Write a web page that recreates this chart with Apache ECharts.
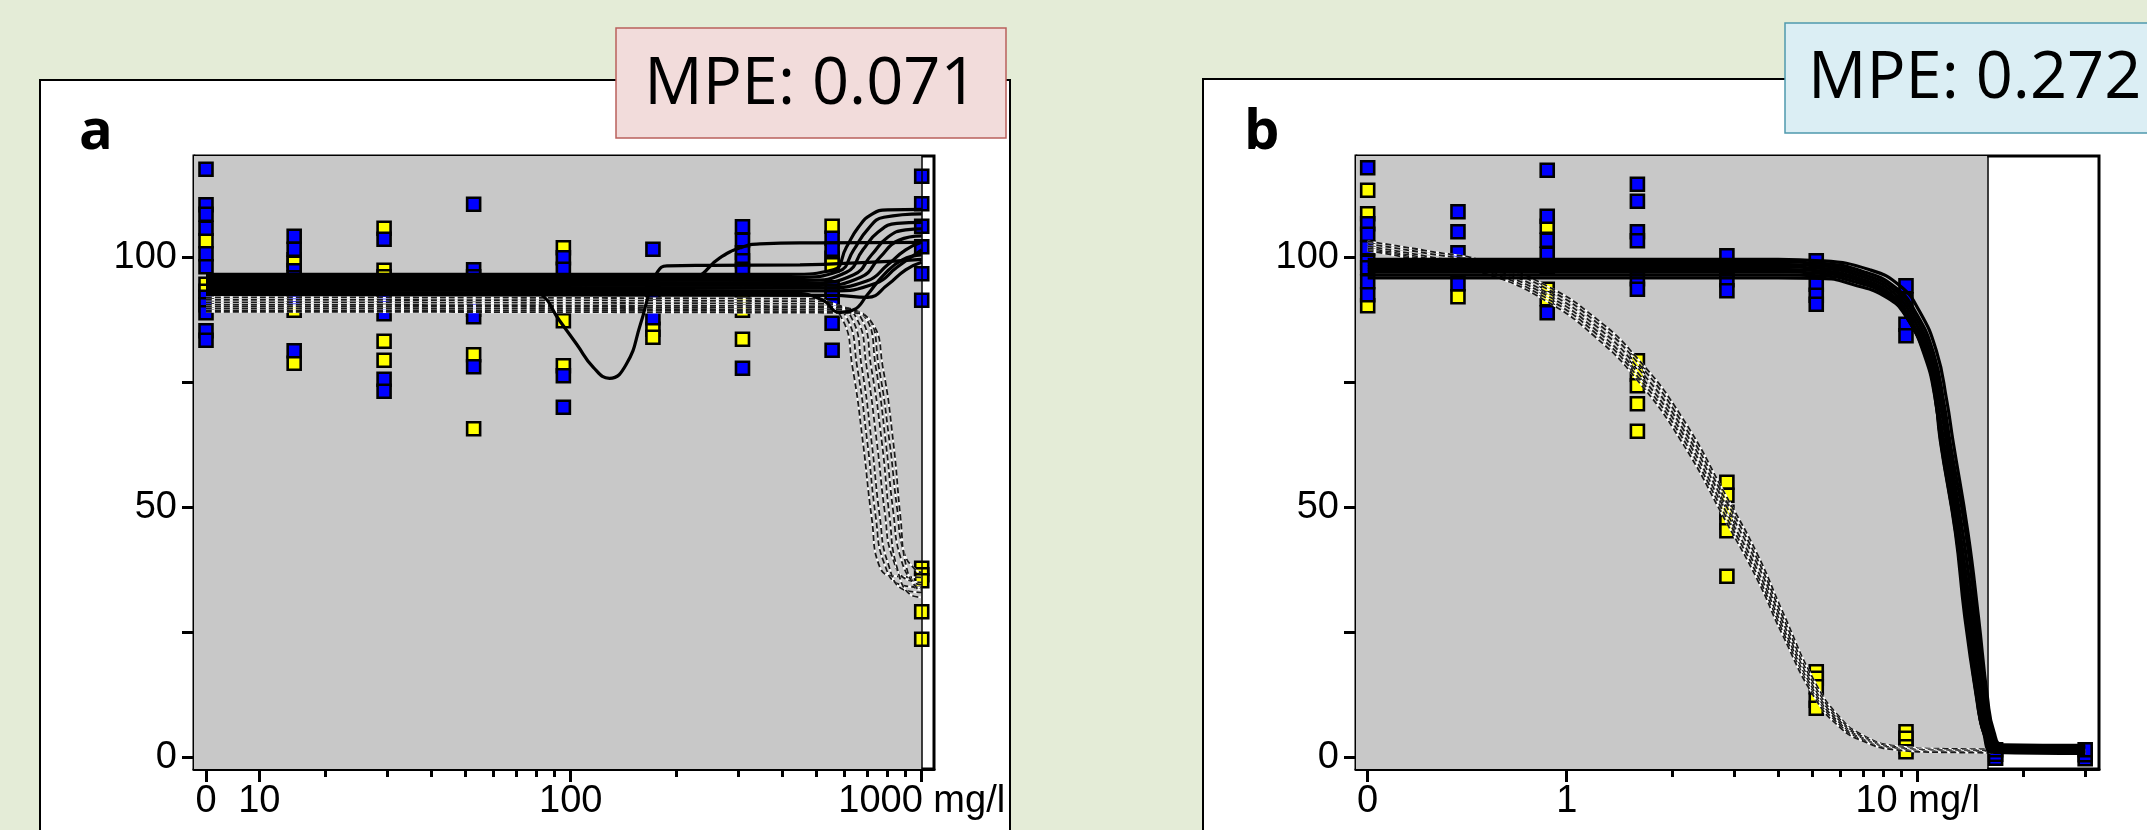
<!DOCTYPE html>
<html>
<head>
<meta charset="utf-8">
<script src="https://cdn.jsdelivr.net/npm/echarts@6/dist/echarts.min.js"></script>
<style>
  html, body { margin: 0; padding: 0; background: #e4ecd7; }
  #chart { width: 2147px; height: 830px; }
</style>
</head>
<body>
<div id="chart"></div>
<script>
// ---------- panel a : doses (mg/l) and responses ----------
var dosesA = [0, 16.3, 29.4, 52.9, 95.3, 171.5, 308.6, 555.6, 1000];
var blueA = [
  [117.6, 110.5, 108.6, 105.8, 100.7, 98.1, 92.0, 90.5, 88.9, 85.3, 83.4],
  [104.2, 101.6, 97.3, 95.9, 91.6, 81.3],
  [103.6, 92.0, 88.7, 75.6, 73.2],
  [110.6, 97.5, 96.1, 89.6, 88.1, 78.1],
  [99.9, 97.6, 94.5, 76.3, 70.0],
  [101.6, 93.0, 87.9],
  [106.1, 103.4, 100.9, 99.3, 97.6, 77.8],
  [103.8, 101.6, 93.9, 92.0, 90.3, 86.8, 81.4],
  [116.2, 110.7, 106.2, 102.1, 96.7, 91.4]
];
var yellowA = [
  [103.3, 94.6, 93.2],
  [99.5, 98.8, 89.4, 78.8],
  [105.8, 97.4, 96.1, 83.2, 79.4],
  [80.5, 65.7],
  [101.9, 87.3, 78.3],
  [85.6, 84.0],
  [91.9, 90.6, 89.4, 83.6],
  [106.2, 99.8, 98.5],
  [37.8, 36.5, 35.3, 29.1, 23.6]
];
// fitted curves, [dose, response]
var solidA = [
  [[0,96.6],[420,96.6],[560,97.5],[610,102],[660,106],[720,108.6],[800,109.5],[1000,109.6]],
  [[0,96.0],[440,96.0],[580,97.2],[640,101.5],[700,105.5],[780,108],[1000,108.7]],
  [[0,95.5],[470,95.4],[610,97],[680,101.5],[750,105],[850,106.8],[1000,107]],
  [[0,95.0],[490,94.9],[640,96.5],[720,100.5],[800,104],[900,105.5],[1000,105.7]],
  [[0,94.5],[510,94.4],[670,96],[760,100],[860,103.4],[1000,104.3]],
  [[0,94.0],[530,93.9],[700,95.3],[800,98.5],[900,101.5],[1000,103]],
  [[0,93.5],[550,93.3],[740,94.8],[850,98],[1000,101.5]],
  [[0,93.0],[430,92.8],[520,91.5],[584,89],[640,89.5],[700,92.5],[780,96.5],[880,99.5],[1000,100.5]],
  [[0,92.6],[560,92.4],[700,92],[800,94.5],[900,97.5],[1000,99]],
  [[0,95.3],[180,95.5],[223,96],[266,99.9],[304,101.9],[346,102.7],[500,102.9],[1000,103]],
  [[0,95.3],[65,95.2],[81,93],[93,87.3],[104,82.6],[116,78],[129,75.8],[144,78.6],[158,86.6],[168,93.3],[176,96.9],[188,98.3],[250,98.4],[450,98.5],[700,99],[1000,99.6]]
];
var dashedA = [
  [[0,92.0],[490,91.7],[590,88],[635,78],[680,63],[720,48],[760,38],[850,36.2],[1000,36]],
  [[0,91.5],[510,91.2],[610,88],[655,78],[700,63],[740,48],[780,39],[870,34.5],[1000,34]],
  [[0,91.0],[530,90.7],[630,88],[675,78],[720,63],[760,48],[800,39],[890,33.5],[1000,33]],
  [[0,90.5],[550,90.2],[650,88],[697,78],[745,63],[785,49],[825,40],[910,35.5],[1000,35]],
  [[0,90.2],[570,89.9],[670,88],[718,78],[770,63],[810,48],[850,38],[930,32.5],[1000,32]],
  [[0,89.8],[590,89.5],[690,88],[740,78],[790,63],[830,49],[870,40],[950,35],[1000,34.5]],
  [[0,89.4],[600,89.2],[700,88],[755,78],[810,63],[850,50],[890,41],[960,37.5],[1000,37]],
  [[0,89.1],[610,88.9],[720,87],[775,78],[830,63],[870,48],[905,38],[970,33.8],[1000,33.5]]
];

// ---------- panel b ----------
var dosesB = [0, 0.49, 0.88, 1.59, 2.86, 5.14, 9.26, 16.67, 30];
var blueB = [
  [117.9, 106.7, 104.6, 101.9, 99.0, 97.9, 95.1, 92.5],
  [109.1, 105.1, 100.9, 98.5, 94.7],
  [117.4, 108.2, 103.4, 100.6, 98.0, 88.9],
  [114.6, 111.2, 105.1, 103.3, 95.7, 93.6],
  [100.3, 97.5, 95.5, 93.3],
  [99.3, 94.6, 92.4, 90.6],
  [94.3, 91.5, 86.6, 84.3],
  [-0.2, 0.6, 1.5],
  [-0.3, 0.5, 1.5]
];
var yellowB = [
  [113.4, 108.7, 90.3],
  [92.1],
  [106.2, 93.6, 91.7],
  [79.3, 76.6, 74.3, 70.7, 65.2],
  [55.0, 52.4, 49.0, 47.0, 45.3, 36.2],
  [17.1, 15.8, 14.1, 11.4, 9.8],
  [5.1, 3.8, 2.1, 1.1],
  [],
  []
];
var solidB = [
  [[0,99.6],[4,99.6],[5.3,99.3],[7.3,97.5],[8.9,94.3],[10.1,89.3],[11.3,81.3],[12.1,71.3],[12.6,63.3],[13.9,45],[14.9,28],[15.8,12],[16.5,5],[17.5,2.5],[30,2.4]],
  [[0,99.1],[4,99.1],[5.3,98.8],[7.1,97],[8.7,93.8],[9.9,88.8],[11.1,80.8],[11.9,70.5],[12.4,62.5],[13.7,45],[14.7,27.5],[15.6,11.5],[16.3,4.8],[17.4,2.3],[30,2.2]],
  [[0,98.6],[4,98.6],[5.3,98.3],[7,96.6],[8.6,93.4],[9.8,88.3],[11,80],[11.8,69.5],[12.3,61.5],[13.5,44],[14.5,27],[15.4,11],[16.1,4.6],[17.3,2.1],[30,2.0]],
  [[0,98.1],[4,98.1],[5.3,97.8],[6.9,96.2],[8.5,93],[9.7,87.8],[10.9,79.5],[11.7,69],[12.2,61],[13.3,43.5],[14.3,26.5],[15.2,10.5],[16,4.4],[17.2,1.8],[30,1.7]],
  [[0,97.6],[4,97.6],[5.3,97.3],[6.8,95.8],[8.4,92.6],[9.6,87.3],[10.8,79],[11.5,69],[12,61],[13.1,43.5],[14.1,26.5],[15,10.5],[15.8,4.2],[17,1.5],[30,1.4]],
  [[0,97.1],[4,97.1],[5.3,96.8],[6.7,95.5],[8.3,92.3],[9.5,87],[10.7,79],[11.4,68.5],[11.9,60.5],[13,43],[13.9,26],[14.9,10],[15.6,4],[16.9,1.3],[30,1.2]],
  [[0,96.5],[4,96.5],[5.3,96.3],[6.6,95.1],[8.3,92.1],[9.4,87.5],[10.5,80],[11.2,72],[11.7,62],[12.9,44],[13.8,27],[14.8,11],[15.5,4.5],[16.7,1.1],[30,1.0]],
  [[0,95.9],[4,95.9],[5.3,95.8],[6.5,94.6],[8.2,91.9],[9.3,88],[10.4,81.3],[11.1,74.6],[11.6,63.3],[12.8,45],[13.6,28.4],[14.7,12],[15.4,5],[16.5,1],[30,0.8]]
];
var dashedB = [
  [[0,103.2],[0.4,101.3],[0.6,99],[0.877,94.3],[1.2,88],[1.59,79.8],[2.13,68],[2.86,52],[3.5,40.5],[4.1,29.5],[5.1,15],[6.0,8],[6.9,4.6],[8.6,2.3],[12,1.7],[30,1.5]],
  [[0,102.7],[0.4,100.8],[0.6,98.5],[0.877,93.7],[1.2,87.3],[1.59,79],[2.13,67],[2.86,51],[3.5,39.5],[4.1,28.5],[5.1,14.2],[6.0,7.6],[6.9,4.3],[8.6,2.1],[12,1.5],[30,1.3]],
  [[0,102.2],[0.4,100.2],[0.6,97.8],[0.877,93],[1.2,86.5],[1.59,78],[2.13,66],[2.86,50],[3.5,38.5],[4.1,27.5],[5.1,13.5],[6.0,7.2],[6.9,4],[8.6,1.9],[12,1.4],[30,1.2]],
  [[0,101.8],[0.4,99.8],[0.6,97.3],[0.877,92.4],[1.2,85.7],[1.59,77],[2.13,65],[2.86,48.8],[3.5,37.3],[4.1,26.5],[5.1,12.9],[6.0,6.8],[6.9,3.8],[8.6,1.7],[12,1.2],[30,1.0]],
  [[0,101.5],[0.4,99.5],[0.6,96.9],[0.877,91.8],[1.2,85],[1.59,76.2],[2.13,64],[2.86,47.8],[3.5,36.3],[4.1,25.6],[5.1,12.3],[6.0,6.4],[6.9,3.6],[8.6,1.6],[12,1.1],[30,0.9]],
  [[0,101.3],[0.4,99.2],[0.6,96.5],[0.877,91.2],[1.2,84.2],[1.59,75.4],[2.13,63],[2.86,46.8],[3.5,35.4],[4.1,24.8],[5.1,11.8],[6.0,6],[6.9,3.4],[8.6,1.5],[12,1],[30,0.8]]
];

// axis ticks
var majorA = [0, 10, 100, 1000];
var majorLabelsA = ['0', '10', '100', '1000 mg/l'];
var minorA = [20, 30, 40, 50, 60, 70, 80, 90, 200, 300, 400, 500, 600, 700, 800, 900];
var majorB = [0, 1, 10];
var majorLabelsB = ['0', '1', '10 mg/l'];
var minorB = [2, 3, 4, 5, 6, 7, 8, 9, 20, 30];
var yTicks = [0, 25, 50, 75, 100];
var yLabels = [0, 50, 100];

// broken log axis: linear from 0 up to bp, log10 above
function brokenLog(d, zeroPos, bp) {
  var lbp = Math.log10(bp);
  return d < bp ? zeroPos + (lbp - zeroPos) * d / bp : Math.log10(d);
}

var panels = [
  { left: 194, width: 740, xMin: 0.9268, xMax: 3.035, zero: 0.961, bp: 16, grayEnd: 1000,
    doses: dosesA, blue: blueA, yellow: yellowA, solid: solidA, dashed: dashedA,
    major: majorA, majorLabels: majorLabelsA, minor: minorA },
  { left: 1356, width: 743, xMin: -0.6003, xMax: 1.5165, zero: -0.567, bp: 0.4, grayEnd: 15.8,
    doses: dosesB, blue: blueB, yellow: yellowB, solid: solidB, dashed: dashedB,
    major: majorB, majorLabels: majorLabelsB, minor: minorB }
];

var grids = [], xAxes = [], yAxes = [], series = [];
var tickStyle = { color: '#000', width: 3 };
var labelFont = { color: '#000', fontSize: 38, fontFamily: 'Liberation Sans' };

panels.forEach(function (p, i) {
  var tx = function (d) { return brokenLog(d, p.zero, p.bp); };
  var majorPos = p.major.map(tx);

  grids.push({ left: p.left, top: 156, width: p.width, height: 613, show: true,
    backgroundColor: '#fff', borderColor: '#000', borderWidth: 3 });

  xAxes.push({
    gridIndex: i, type: 'value', min: p.xMin, max: p.xMax, position: 'bottom',
    axisLine: { onZero: false, lineStyle: tickStyle },
    axisTick: { customValues: majorPos, length: 13, lineStyle: tickStyle },
    axisLabel: Object.assign({ customValues: majorPos, margin: 14,
      formatter: function (v) {
        for (var k = 0; k < majorPos.length; k++) {
          if (Math.abs(majorPos[k] - v) < 1e-6) return p.majorLabels[k];
        }
        return '';
      } }, labelFont),
    splitLine: { show: false }
  });
  xAxes.push({
    gridIndex: i, type: 'value', min: p.xMin, max: p.xMax, position: 'bottom',
    axisLine: { show: false, onZero: false },
    axisTick: { customValues: p.minor.map(tx), length: 8, lineStyle: tickStyle },
    axisLabel: { show: false },
    splitLine: { show: false }
  });
  yAxes.push({
    gridIndex: i, type: 'value', min: -2.34, max: 120.26,
    axisLine: { onZero: false, lineStyle: tickStyle },
    axisTick: { customValues: yTicks, length: 12, lineStyle: tickStyle },
    axisLabel: Object.assign({ customValues: yLabels, margin: 17 }, labelFont),
    splitLine: { show: false }
  });

  var xi = 2 * i;
  // grey shaded range and its edge
  series.push({
    type: 'line', xAxisIndex: xi, yAxisIndex: i, data: [], z: 1, silent: true,
    markArea: { silent: true, itemStyle: { color: '#c8c8c8' },
      data: [[{ xAxis: p.xMin }, { xAxis: tx(p.grayEnd) }]] },
    markLine: { silent: true, symbol: ['none', 'none'], label: { show: false },
      lineStyle: { color: '#000', width: 1.5, type: 'solid' },
      data: [{ xAxis: tx(p.grayEnd) }] }
  });

  function pts(groups) {
    var out = [];
    groups.forEach(function (vals, k) {
      vals.forEach(function (v) { out.push([tx(p.doses[k]), v]); });
    });
    return out;
  }
  series.push({ type: 'scatter', xAxisIndex: xi, yAxisIndex: i, z: 3, symbol: 'rect', symbolSize: 13,
    itemStyle: { color: '#ffff00', borderColor: '#000', borderWidth: 2.6, opacity: 1 }, data: pts(p.yellow) });
  series.push({ type: 'scatter', xAxisIndex: xi, yAxisIndex: i, z: 3, symbol: 'rect', symbolSize: 13,
    itemStyle: { color: '#0000ff', borderColor: '#000', borderWidth: 2.6, opacity: 1 }, data: pts(p.blue) });

  function curve(c) { return c.map(function (pt) { return [tx(pt[0]), pt[1]]; }); }
  p.dashed.forEach(function (c) {
    series.push({ type: 'line', xAxisIndex: xi, yAxisIndex: i, z: 4, data: curve(c), smooth: 0.5,
      showSymbol: false, symbol: 'none', silent: true,
      lineStyle: { color: '#ffffff', width: 1.8 } });
    series.push({ type: 'line', xAxisIndex: xi, yAxisIndex: i, z: 4, data: curve(c), smooth: 0.5,
      showSymbol: false, symbol: 'none', silent: true,
      lineStyle: { color: '#1a1a1a', width: 1.8, type: [6, 3] } });
  });
  p.solid.forEach(function (c) {
    series.push({ type: 'line', xAxisIndex: xi, yAxisIndex: i, z: 5, data: curve(c), smooth: 0.5,
      showSymbol: false, symbol: 'none', silent: true,
      lineStyle: { color: '#000', width: 3.2 } });
  });
});

var chart = echarts.init(document.getElementById('chart'));
chart.setOption({
  animation: false,
  backgroundColor: '#e4ecd7',
  textStyle: { fontFamily: 'Liberation Sans' },
  graphic: [
    { type: 'rect', z: -10, shape: { x: 40, y: 80, width: 970, height: 800 },
      style: { fill: '#fff', stroke: '#000', lineWidth: 2 } },
    { type: 'rect', z: -10, shape: { x: 1203, y: 79, width: 1000, height: 800 },
      style: { fill: '#fff', stroke: '#000', lineWidth: 2 } },
    { type: 'text', z: 50, x: 79, y: 133,
      style: { text: 'a', font: 'bold 56px "Open Sans"', fill: '#000', textVerticalAlign: 'middle' } },
    { type: 'text', z: 50, x: 1244, y: 133,
      style: { text: 'b', font: 'bold 56px "Open Sans"', fill: '#000', textVerticalAlign: 'middle' } },
    { type: 'rect', z: 100, shape: { x: 616, y: 28, width: 390, height: 110 },
      style: { fill: '#f2dcdb', stroke: '#b9605c', lineWidth: 1.5 } },
    { type: 'text', z: 101, x: 811, y: 85,
      style: { text: 'MPE: 0.071', font: '65px "Open Sans"', fill: '#000',
        textAlign: 'center', textVerticalAlign: 'middle' } },
    { type: 'rect', z: 100, shape: { x: 1785, y: 23, width: 420, height: 110 },
      style: { fill: '#dbeef4', stroke: '#4f99ad', lineWidth: 1.5 } },
    { type: 'text', z: 101, x: 1808, y: 79,
      style: { text: 'MPE: 0.272', font: '65px "Open Sans"', fill: '#000',
        textAlign: 'left', textVerticalAlign: 'middle' } }
  ],
  grid: grids,
  xAxis: xAxes,
  yAxis: yAxes,
  series: series
});
</script>
</body>
</html>
